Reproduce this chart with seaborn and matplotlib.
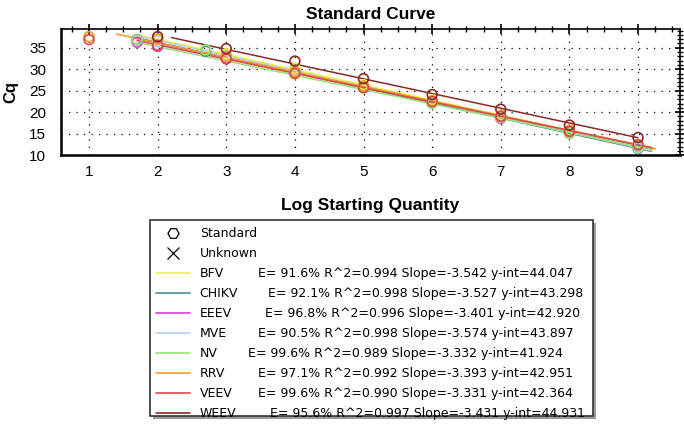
import pandas as pd
import matplotlib.pyplot as plt
import seaborn as sns
from matplotlib.lines import Line2D
from matplotlib.patches import Rectangle
from matplotlib.ticker import MultipleLocator

# standard curve fits
viruses = ["BFV", "CHIKV", "EEEV", "MVE", "NV", "RRV", "VEEV", "WEEV"]
efficiency = [91.6, 92.1, 96.8, 90.5, 99.6, 97.1, 99.6, 95.6]
r_squared = [0.994, 0.998, 0.996, 0.998, 0.989, 0.992, 0.990, 0.997]
slopes = [-3.542, -3.527, -3.401, -3.574, -3.332, -3.393, -3.331, -3.431]
intercepts = [44.047, 43.298, 42.920, 43.897, 41.924, 42.951, 42.364, 44.931]
line_start = [1.7, 1.7, 1.7, 1.7, 1.7, 1.4, 1.7, 2.2]
line_end = [9.25, 9.2, 9.2, 9.2, 9.2, 9.25, 9.2, 9.0]
colors = ["#f2f230", "#4f8c8c", "#e03ce0", "#b4d2e8", "#98e07a", "#f0a028", "#e04848", "#8c2a2a"]

# standards (circles) per virus
bfv_x = [2, 3, 4, 5, 6, 7, 8, 9]
bfv_cq = [37.0, 33.6, 30.2, 26.4, 22.9, 19.3, 15.8, 12.2]
chikv_x = [1.7, 2.7, 4, 5, 6, 7, 8, 9]
chikv_cq = [36.9, 34.2, 29.2, 25.8, 22.2, 18.6, 15.1, 11.5]
eeev_x = [1.7, 2, 3, 4, 5, 6, 7, 8, 9]
eeev_cq = [36.3, 35.3, 32.6, 29.3, 25.8, 22.5, 18.6, 15.6, 12.0]
mve_x = [2, 3, 4, 5, 6, 7, 8, 9]
mve_cq = [36.6, 33.2, 29.6, 26.0, 22.4, 18.8, 15.2, 11.7]
nv_x = [1.7, 2.7, 4, 5, 6, 7, 8, 9]
nv_cq = [36.8, 34.5, 29.0, 25.6, 22.0, 18.8, 15.0, 12.0]
rrv_x = [1, 2, 3, 4, 5, 6, 7, 8, 9]
rrv_cq = [37.6, 37.0, 33.0, 29.5, 26.1, 22.6, 19.2, 15.8, 12.4]
veev_x = [1, 2, 3, 4, 5, 6, 7, 8, 9]
veev_cq = [36.9, 35.6, 32.4, 29.0, 25.7, 22.5, 19.0, 15.5, 12.4]
weev_x = [2, 3, 4, 5, 6, 7, 8, 9]
weev_cq = [37.6, 34.8, 31.9, 27.8, 24.1, 20.7, 17.0, 14.1]

points_x = [bfv_x, chikv_x, eeev_x, mve_x, nv_x, rrv_x, veev_x, weev_x]
points_cq = [bfv_cq, chikv_cq, eeev_cq, mve_cq, nv_cq, rrv_cq, veev_cq, weev_cq]

pts = pd.concat([pd.DataFrame({"virus": v, "x": xs, "cq": ys})
                 for v, xs, ys in zip(viruses, points_x, points_cq)])
lines = pd.concat([pd.DataFrame({"virus": v, "x": [a, b], "cq": [i + s * a, i + s * b]})
                   for v, a, b, s, i in zip(viruses, line_start, line_end, slopes, intercepts)])

sns.set_style("white")
plt.rcParams["font.family"] = ["Liberation Sans", "DejaVu Sans"]
plt.rcParams.update({"text.color": "black", "axes.labelcolor": "black",
                     "xtick.color": "black", "ytick.color": "black"})
palette = dict(zip(viruses, colors))

W, H = 684, 425
fig = plt.figure(figsize=(W / 100, H / 100), dpi=100)
ax = fig.add_axes([0.089, 0.635, 0.905, 0.297])

sns.lineplot(data=lines, x="x", y="cq", hue="virus", palette=palette, lw=1.1,
             legend=False, ax=ax, zorder=3)
for v, c in zip(viruses, colors):
    d = pts[pts.virus == v]
    ax.scatter(d.x, d.cq, s=50, marker="o", facecolors="none", edgecolors=c,
               linewidths=1.2, zorder=4)

ax.set_xlim(0.59, 9.61)
ax.set_ylim(10, 39.4)
ax.xaxis.set_major_locator(MultipleLocator(1))
ax.xaxis.set_minor_locator(MultipleLocator(0.25))
ax.yaxis.set_major_locator(MultipleLocator(5))
ax.yaxis.set_minor_locator(MultipleLocator(1))
ax.set_xticks(range(1, 10))
ax.grid(True, which="major", color="black", linestyle=(0, (1, 5)), lw=0.9)
ax.tick_params(which="major", direction="inout", length=7, width=1.2, labelsize=11,
               top=True, right=True)
ax.tick_params(axis="y", which="major", pad=7)
ax.tick_params(which="minor", direction="inout", length=4, width=1,
               top=True, right=True)
for sp in ax.spines.values():
    sp.set_color("black")
    sp.set_linewidth(1.2)
ax.spines["bottom"].set_linewidth(1.8)
ax.spines["left"].set_linewidth(1.8)

ax.set_title("Standard Curve", fontsize=12.5, fontweight="bold", pad=7)
ax.set_xlabel("Log Starting Quantity", fontsize=12.5, fontweight="bold", labelpad=14)
ax.set_ylabel("Cq", fontsize=12, fontweight="bold", labelpad=8)

# legend: box drawn by hand, handles + names by fig.legend, stats as text
box_l, box_t, box_r, box_b = 150, 220, 593, 416
fig.patches.append(Rectangle(((box_l + 3) / W, 1 - (box_b + 3) / H), (box_r - box_l) / W,
                             (box_b - box_t) / H, transform=fig.transFigure,
                             facecolor="#9a9a9a", edgecolor="none", zorder=0))
fig.patches.append(Rectangle((box_l / W, 1 - box_b / H), (box_r - box_l) / W,
                             (box_b - box_t) / H, transform=fig.transFigure,
                             facecolor="white", edgecolor="#333333", lw=1.2, zorder=1))

handles = [Line2D([], [], ls="none", marker="H", mfc="none", mec="black", ms=8, mew=0.9),
           Line2D([], [], ls="none", marker="x", color="black", ms=9, mew=0.9)]
labels = ["Standard", "Unknown"]
for v, c in zip(viruses, colors):
    handles.append(Line2D([], [], color=c, lw=1.2))
    labels.append(v)

leg_font = {"family": "DejaVu Sans", "size": 9}
leg = fig.legend(handles, labels, loc="upper left", bbox_to_anchor=(156 / W, 1 - 227 / H),
                 prop=leg_font, frameon=False, labelspacing=0.56, handlelength=2.75,
                 handletextpad=0.75, borderpad=0, borderaxespad=0)
leg.set_zorder(2)

stat_x = [258, 268, 265, 258, 248, 258, 258, 270]
fig.canvas.draw()
inv = fig.transFigure.inverted()
for t, v, sx, e, r, s, i in zip(leg.get_texts()[2:], viruses, stat_x,
                                efficiency, r_squared, slopes, intercepts):
    bb = t.get_window_extent()
    yc = inv.transform((0, (bb.y0 + bb.y1) / 2))[1]
    fig.text(sx / W, yc, f"E= {e:.1f}% R^2={r:.3f} Slope={s:.3f} y-int={i:.3f}",
             fontdict=leg_font, va="center", ha="left", zorder=3)

fig.savefig("out.png", dpi=100)
